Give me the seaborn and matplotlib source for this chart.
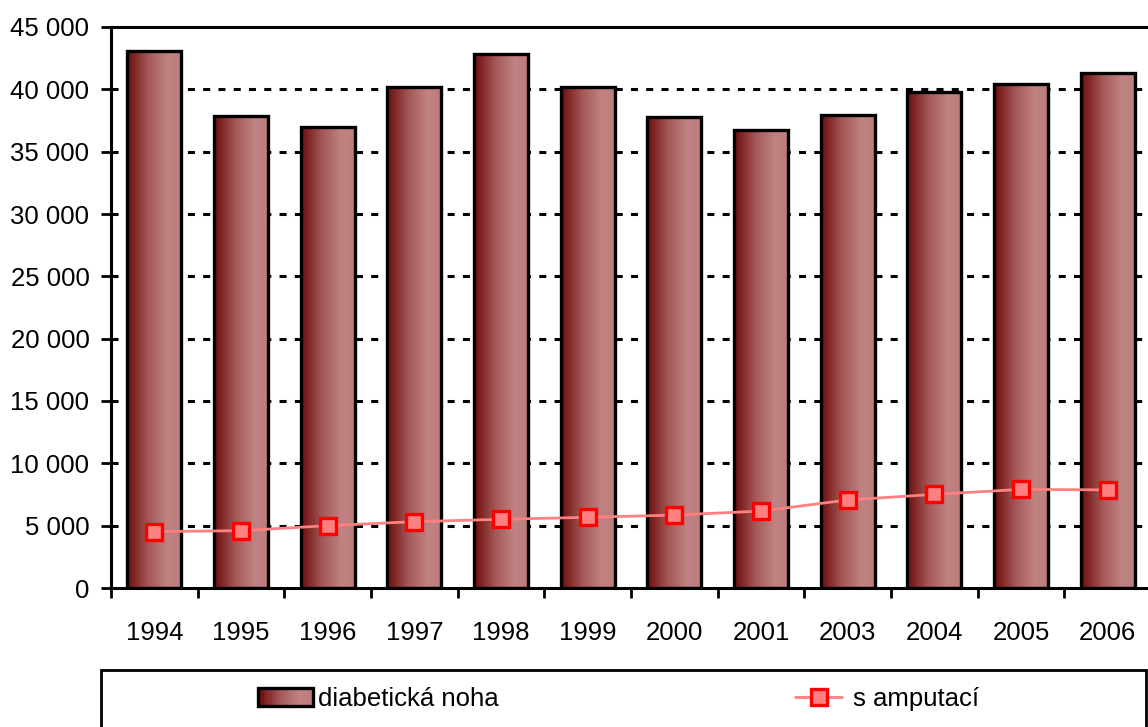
import numpy as np
import pandas as pd
import matplotlib
matplotlib.use("Agg")
import matplotlib.pyplot as plt
import seaborn as sns
from matplotlib.patches import Rectangle
from matplotlib.lines import Line2D
from matplotlib.colors import LinearSegmentedColormap
from matplotlib.legend_handler import HandlerBase
from matplotlib.ticker import FuncFormatter

# data
years = ["1994", "1995", "1996", "1997", "1998", "1999",
         "2000", "2001", "2003", "2004", "2005", "2006"]
diabeticka_noha = [43100, 37900, 37000, 40200, 42800, 40150,
                   37750, 36700, 37950, 39750, 40400, 41300]
s_amputaci = [4520, 4600, 5000, 5320, 5510, 5670,
              5850, 6170, 7060, 7510, 7910, 7870]
y_ticks = list(range(0, 45001, 5000))

sns.set_style("white", {"text.color": "black", "xtick.color": "black", "ytick.color": "black"})
plt.rcParams['font.family'] = ['Liberation Sans', 'DejaVu Sans']
FS = 18.5
plt.rcParams['font.size'] = FS

df = pd.DataFrame({"rok": years, "noha": diabeticka_noha, "amp": s_amputaci})

grad = LinearSegmentedColormap.from_list(
    "bar", [(0, "#6e0c0c"), (0.4, "#a45858"), (0.75, "#c08282"), (1, "#bd7d7d")])

W, H = 1148, 727
fig = plt.figure(figsize=(W / 100, H / 100), dpi=100)
ax = fig.add_axes([111 / W, 139 / H, 1040 / W, 561 / H])

sns.barplot(data=df, x="rok", y="noha", ax=ax, width=0.62,
            color="#a05555", edgecolor="black", linewidth=2.4, zorder=2)

# gradient fill for each bar
g = np.linspace(0, 1, 256).reshape(1, -1)
for p in ax.patches:
    x0, y0 = p.get_x(), p.get_y()
    im = ax.imshow(g, cmap=grad, aspect="auto", zorder=1.9,
                   extent=[x0, x0 + p.get_width(), y0, y0 + p.get_height()])
    im.set_clip_path(p)
    p.set_facecolor("none")

sns.pointplot(data=df, x="rok", y="amp", ax=ax, color="#ff8080",
              markers="s", linestyles="-", errorbar=None,
              markersize=11.5, markeredgecolor="#ff0000", markeredgewidth=2.4,
              markerfacecolor="#ff8080", linewidth=2.0, zorder=3)

ax.set_xlim(-0.5, 11.5)
ax.set_ylim(0, 45000)
ax.set_yticks(y_ticks)
ax.yaxis.set_major_formatter(FuncFormatter(lambda v, _: f"{int(v):,}".replace(",", " ")))
ax.set_xlabel("")
ax.set_ylabel("")

# grid
for v in y_ticks[1:-1]:
    ax.axhline(v, color="black", lw=2.2, ls=(0, (2.3, 2.7)), zorder=0.5)

# x ticks between categories, labels under bars
ax.set_xticks(np.arange(-0.5, 11.6, 1))
ax.set_xticklabels([])
ax.set_xticks(np.arange(len(years)), minor=True)
ax.set_xticklabels(years, minor=True)
ax.tick_params(axis="x", which="major", direction="out", length=7.5, width=2, color="black", bottom=True)
ax.tick_params(axis="x", which="minor", length=0, pad=24, labelsize=FS, labelcolor="black")
ax.tick_params(axis="y", direction="out", length=7.5, width=2, color="black", pad=8,
               labelsize=FS, labelcolor="black", left=True)

for side in ["left", "bottom", "top", "right"]:
    ax.spines[side].set_color("black")
    ax.spines[side].set_linewidth(2.2)


# legend
class GradHandler(HandlerBase):
    def create_artists(self, legend, orig, xd, yd, w, h, fs, trans):
        arts = []
        n = 20
        for i in range(n):
            r = Rectangle((xd + w * i / n, yd), w / n, h, facecolor=grad(i / (n - 1)),
                          edgecolor="none", transform=trans)
            arts.append(r)
        arts.append(Rectangle((xd, yd), w, h, facecolor="none", edgecolor="black",
                              lw=2.4, transform=trans))
        return arts


fig.patches.append(Rectangle((101 / W, -0.05), 1045 / W, (727 - 670) / H + 0.05,
                             transform=fig.transFigure, facecolor="white",
                             edgecolor="black", lw=2))

bar_handle = Rectangle((0, 0), 1, 1)
line_handle = Line2D([], [], color="#ff8080", lw=2.0, marker="s", markersize=11.5,
                     markerfacecolor="#ff8080", markeredgecolor="#ff0000", markeredgewidth=2.4)

fs_px = FS * 100 / 72
leg1 = fig.legend([bar_handle], ["diabetická noha"], handler_map={Rectangle: GradHandler()},
                  loc="center left", bbox_to_anchor=(258 / W, 1 - 699 / H), frameon=False,
                  borderpad=0, borderaxespad=0, handlelength=55 / fs_px, handleheight=18 / fs_px,
                  handletextpad=5 / fs_px, fontsize=FS, labelcolor="black")
leg2 = fig.legend([line_handle], ["s amputací"],
                  loc="center left", bbox_to_anchor=(795 / W, 1 - 699 / H), frameon=False,
                  borderpad=0, borderaxespad=0, handlelength=47 / fs_px,
                  handletextpad=11 / fs_px, fontsize=FS, labelcolor="black")

fig.savefig("out.png", dpi=100)
